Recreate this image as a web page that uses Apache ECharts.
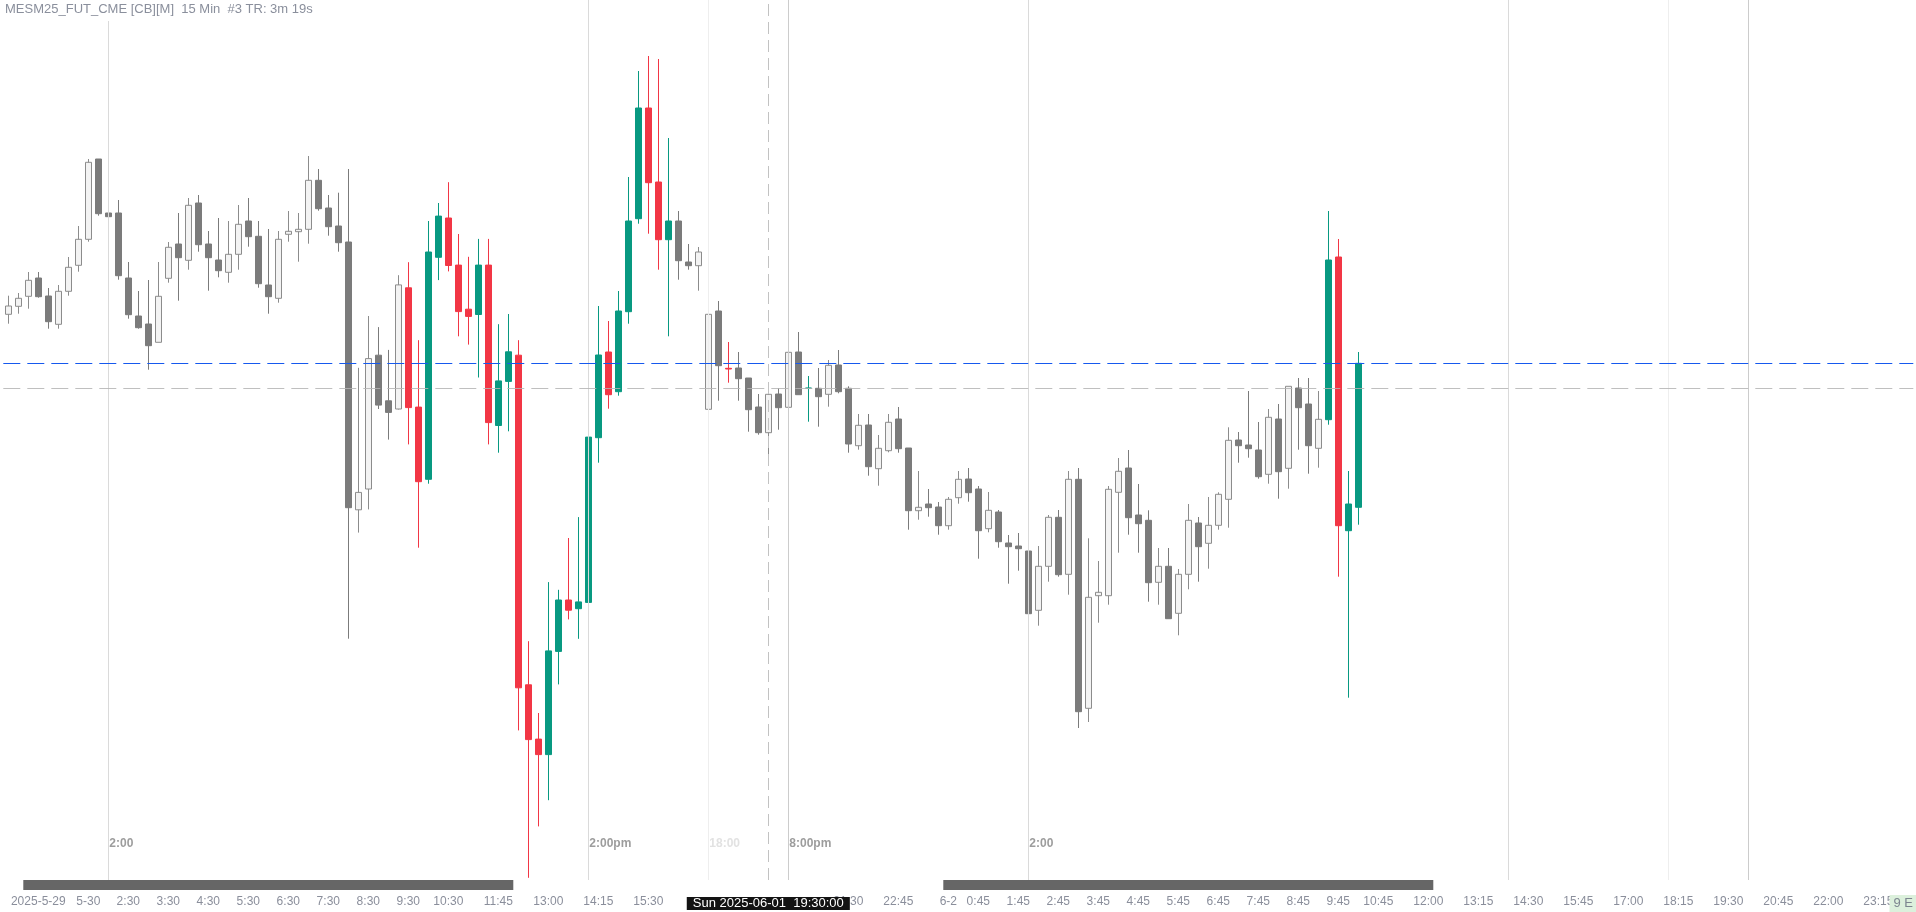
<!DOCTYPE html>
<html lang="en">
<head>
<meta charset="UTF-8">
<title>MESM25_FUT_CME 15 Min</title>
<script src="https://cdn.jsdelivr.net/npm/echarts@6/dist/echarts.min.js"></script>
<style>
    html, body { margin: 0; padding: 0; background: #fff; }
    #container { width: 1916px; height: 912px; }
</style>
</head>
<body>
<div id="container"></div>
<script>
    // 15 min bars, 5-29 night session -> 6-2 morning
    var opens = [
        5968.57, 5969.37, 5970.37, 5972.20, 5970.40, 5967.57, 5970.87, 5973.47, 5976.07, 5984.10,
        5978.70, 5978.70, 5972.20, 5968.40, 5967.60, 5965.77, 5972.17, 5975.60, 5973.97, 5979.70,
        5975.60, 5974.00, 5972.77, 5974.57, 5977.90, 5976.37, 5971.50, 5970.17, 5976.57, 5976.83,
        5977.07, 5981.97, 5979.20, 5977.40, 5975.80, 5949.02, 5951.10, 5964.48, 5959.92, 5959.10,
        5971.22, 5959.29, 5952.07, 5974.27, 5978.20, 5973.49, 5969.08, 5968.55, 5973.49, 5957.45,
        5961.86, 5964.48, 5931.52, 5926.09, 5924.54, 5934.86, 5940.00, 5939.13, 5939.76, 5956.23,
        5964.80, 5960.83, 5968.83, 5978.13, 5989.20, 5981.80, 5976.03, 5977.90, 5973.80, 5973.43,
        5959.07, 5968.90, 5963.17, 5963.20, 5962.20, 5959.30, 5956.73, 5960.60, 5959.27, 5964.80,
        5961.17, 5961.17, 5960.57, 5963.50, 5961.17, 5955.43, 5957.50, 5953.13, 5954.93, 5958.10,
        5955.20, 5948.93, 5949.60, 5949.30, 5947.43, 5950.23, 5952.10, 5951.10, 5947.13, 5948.80,
        5945.70, 5945.40, 5944.90, 5938.97, 5943.37, 5948.27, 5942.57, 5952.07, 5929.17, 5940.43,
        5940.43, 5950.77, 5953.20, 5948.50, 5947.97, 5941.77, 5943.37, 5938.67, 5942.57, 5947.70,
        5945.67, 5947.47, 5950.07, 5956.00, 5955.50, 5955.00, 5952.57, 5958.10, 5953.17, 5961.20,
        5959.60, 5955.17, 5958.03, 5974.30, 5946.93, 5949.27
    ];
    var closes = [
        5969.40, 5970.17, 5971.97, 5970.33, 5967.83, 5970.87, 5973.27, 5976.07, 5983.77, 5978.63,
        5978.33, 5972.43, 5968.53, 5967.23, 5965.43, 5970.37, 5975.27, 5974.23, 5979.47, 5975.53,
        5974.23, 5972.93, 5974.57, 5977.57, 5976.33, 5971.63, 5970.33, 5976.07, 5976.87, 5977.07,
        5981.97, 5979.13, 5977.33, 5975.73, 5949.23, 5950.76, 5964.14, 5959.49, 5958.76, 5971.51,
        5959.24, 5951.83, 5974.80, 5978.39, 5973.45, 5968.84, 5968.36, 5973.49, 5957.74, 5961.91,
        5964.82, 5931.22, 5926.04, 5924.54, 5934.91, 5940.00, 5938.98, 5939.81, 5956.29, 5964.50,
        5960.53, 5968.90, 5977.90, 5989.20, 5981.73, 5976.03, 5977.90, 5973.93, 5973.43, 5974.80,
        5968.57, 5963.43, 5963.10, 5962.13, 5959.03, 5956.73, 5960.57, 5959.23, 5964.77, 5960.53,
        5961.20, 5960.33, 5963.47, 5960.83, 5955.60, 5957.47, 5953.33, 5955.17, 5957.77, 5955.13,
        5948.93, 5949.27, 5949.23, 5947.43, 5950.07, 5952.07, 5950.73, 5946.93, 5948.97, 5945.83,
        5945.33, 5945.13, 5938.63, 5943.37, 5948.27, 5942.53, 5952.07, 5928.83, 5940.27, 5940.77,
        5951.07, 5952.87, 5948.23, 5947.63, 5941.73, 5943.37, 5938.13, 5942.57, 5947.97, 5945.33,
        5947.47, 5950.57, 5955.97, 5955.43, 5955.13, 5952.33, 5958.27, 5952.83, 5961.37, 5959.23,
        5955.43, 5958.07, 5974.00, 5947.43, 5949.60, 5963.67
    ];
    var lows = [
        5967.63, 5968.63, 5969.13, 5970.23, 5967.13, 5967.13, 5970.43, 5972.83, 5975.83, 5978.43,
        5975.13, 5972.03, 5968.13, 5967.13, 5963.03, 5965.77, 5971.73, 5969.93, 5973.03, 5974.83,
        5970.93, 5972.27, 5971.73, 5973.03, 5975.33, 5971.23, 5968.63, 5969.73, 5975.83, 5973.83,
        5975.63, 5978.93, 5976.43, 5974.83, 5936.13, 5946.74, 5949.06, 5959.10, 5956.04, 5959.05,
        5955.56, 5945.23, 5951.63, 5971.99, 5972.86, 5966.37, 5965.54, 5962.25, 5955.56, 5954.73,
        5956.87, 5926.96, 5912.22, 5917.36, 5919.98, 5931.56, 5938.06, 5936.12, 5939.22, 5953.73,
        5959.13, 5960.43, 5967.63, 5977.63, 5976.63, 5973.03, 5966.37, 5972.03, 5973.03, 5970.93,
        5954.73, 5959.93, 5961.73, 5959.93, 5956.83, 5956.53, 5953.73, 5957.03, 5958.13, 5960.53,
        5957.83, 5957.33, 5959.33, 5960.67, 5954.73, 5955.03, 5952.43, 5951.43, 5954.77, 5954.73,
        5947.03, 5948.03, 5948.33, 5946.53, 5947.03, 5949.63, 5949.83, 5944.13, 5946.77, 5945.23,
        5941.63, 5942.93, 5938.53, 5937.43, 5941.83, 5942.33, 5940.53, 5927.20, 5927.80, 5937.73,
        5939.53, 5944.73, 5946.53, 5944.73, 5939.83, 5939.53, 5938.13, 5936.47, 5941.07, 5941.83,
        5943.13, 5947.03, 5947.23, 5953.73, 5954.23, 5952.13, 5951.63, 5950.13, 5951.13, 5955.03,
        5952.63, 5953.23, 5957.53, 5942.33, 5930.23, 5947.53
    ];
    var highs = [
        5970.43, 5970.70, 5972.80, 5972.80, 5971.20, 5971.50, 5974.30, 5977.40, 5984.10, 5984.10,
        5981.30, 5980.00, 5973.80, 5970.90, 5972.00, 5973.80, 5975.80, 5978.70, 5980.20, 5980.50,
        5976.90, 5978.20, 5977.90, 5979.50, 5980.20, 5977.90, 5977.10, 5976.90, 5978.90, 5978.70,
        5984.40, 5983.10, 5980.50, 5980.73, 5983.10, 5963.22, 5968.40, 5967.29, 5965.01, 5972.48,
        5973.78, 5965.98, 5977.90, 5979.70, 5981.78, 5976.60, 5974.32, 5976.11, 5976.11, 5967.58,
        5968.60, 5965.98, 5935.88, 5928.70, 5941.79, 5941.02, 5946.20, 5948.29, 5958.32, 5969.40,
        5967.90, 5970.90, 5982.30, 5992.90, 5994.40, 5994.10, 5986.20, 5978.90, 5975.60, 5975.30,
        5970.40, 5969.90, 5965.80, 5964.80, 5962.20, 5960.60, 5961.23, 5961.20, 5965.50, 5966.80,
        5962.40, 5963.20, 5964.00, 5965.00, 5961.37, 5958.60, 5958.60, 5956.50, 5958.60, 5959.30,
        5955.20, 5952.90, 5951.10, 5949.80, 5950.30, 5952.90, 5953.20, 5951.40, 5950.80, 5949.00,
        5946.50, 5946.70, 5945.90, 5945.40, 5948.50, 5949.00, 5952.90, 5953.20, 5946.17, 5943.90,
        5951.40, 5954.20, 5955.00, 5951.60, 5948.97, 5945.20, 5945.20, 5943.10, 5949.60, 5948.30,
        5950.30, 5950.77, 5957.27, 5956.80, 5960.90, 5957.80, 5959.10, 5959.60, 5961.37, 5962.20,
        5962.20, 5960.90, 5978.90, 5976.10, 5952.90, 5964.80
    ];
    // bars drawn in session colours (regular hours + coloured dojis)
    var coloredRanges = [[40, 66], [72, 72], [80, 80], [132, 135]];

    var slotCount = 191;   // bar slots incl. empty future space
    var tickIdx = [3, 8, 12, 16, 20, 24, 28, 32, 36, 40, 44, 49, 54, 59, 64, 84, 89, 94, 97, 101,
        105, 109, 113, 117, 121, 125, 129, 133, 137, 142, 147, 152, 157, 162, 167, 172, 177, 182, 187];
    var tickText = ['2025-5-29', '5-30', '2:30', '3:30', '4:30', '5:30', '6:30', '7:30', '8:30', '9:30',
        '10:30', '11:45', '13:00', '14:15', '15:30', '21:30', '22:45', '6-2', '0:45', '1:45',
        '2:45', '3:45', '4:45', '5:45', '6:45', '7:45', '8:45', '9:45', '10:45', '12:00',
        '13:15', '14:30', '15:45', '17:00', '18:15', '19:30', '20:45', '22:00', '23:15'];

    var sepIdx = [10, 58, 70, 78, 102, 150, 166, 174];
    var sepKind = ['day', 'day', 'open', 'eve', 'day', 'day', 'open', 'eve'];
    var sepText = ['2:00', '2:00pm', '18:00', '8:00pm', '2:00', '', '', ''];

    var crossIdx = 76;
    var crossPrice = 5961.17;
    var crossText = 'Sun 2025-06-01  19:30:00';
    var barSpans = [[2, 51], [94, 143]];

    var sepColor = { day: '#dadada', open: '#eeeeee', eve: '#cccccc' };
    var sepLabelColor = { day: '#9d9d9d', open: '#e2e2e2', eve: '#9d9d9d' };
    var candleStyle = {
        ethUp: { fill: '#f3f3f3', line: '#8c8c8c' },
        ethDown: { fill: '#7b7b7b', line: '#7b7b7b' },
        rthUp: { fill: '#089981', line: '#089981' },
        rthDown: { fill: '#f23645', line: '#f23645' }
    };
    var font = 'Liberation Sans, Arial, sans-serif';

    function isColored(i) {
        for (var k = 0; k < coloredRanges.length; k++) {
            if (i >= coloredRanges[k][0] && i <= coloredRanges[k][1]) return true;
        }
        return false;
    }

    var categories = [];
    for (var s = 0; s < slotCount; s++) categories.push(String(s));

    var candles = [];
    for (var i = 0; i < opens.length; i++) {
        var up = closes[i] > opens[i] || (closes[i] === opens[i] && i > 0 && closes[i] >= closes[i - 1]);
        var key = (isColored(i) ? 'rth' : 'eth') + (up ? 'Up' : 'Down');
        var cs = candleStyle[key];
        candles.push({
            value: [opens[i], closes[i], lows[i], highs[i]],
            itemStyle: { color: cs.fill, color0: cs.fill, borderColor: cs.line, borderColor0: cs.line, borderWidth: 1 }
        });
    }

    var tickMap = {};
    for (var t = 0; t < tickIdx.length; t++) tickMap[tickIdx[t]] = tickText[t];

    var dom = document.getElementById('container');
    var myChart = echarts.init(dom);

    var option = {
        animation: false,
        backgroundColor: '#fff',
        title: {
            text: 'MESM25_FUT_CME [CB][M]  15 Min  #3 TR: 3m 19s',
            left: 0,
            top: 0,
            padding: [3, 4, 5, 5],
            backgroundColor: '#fff',
            textStyle: { fontSize: 13, fontWeight: 'normal', color: '#8a8f9c', fontFamily: font }
        },
        grid: { left: 3.3, right: 2.7, top: 0, bottom: 32 },
        xAxis: {
            type: 'category',
            data: categories,
            boundaryGap: true,
            axisLine: { show: false },
            axisTick: { show: false },
            splitLine: { show: false },
            axisLabel: {
                interval: function (idx) { return tickMap[idx] !== undefined; },
                formatter: function (v, idx) { return tickMap[idx] || ''; },
                hideOverlap: false,
                margin: 16,
                fontSize: 12,
                color: '#8a8e9b',
                fontFamily: font
            }
        },
        yAxis: {
            type: 'value',
            min: 5912,
            max: 6000,
            show: false,
            splitLine: { show: false }
        },
        series: [
            {
                type: 'line',
                name: 'sessions',
                data: [],
                z: 1,
                markLine: {
                    silent: true,
                    animation: false,
                    symbol: ['none', 'none'],
                    label: { show: false },
                    data: sepIdx.map(function (idx, k) {
                        return { xAxis: idx, lineStyle: { color: sepColor[sepKind[k]], width: 1, type: 'solid' } };
                    })
                }
            },
            {
                type: 'candlestick',
                name: 'MESM25',
                data: candles,
                barWidth: 6,
                z: 2
            },
            {
                type: 'line',
                name: 'levels',
                data: [],
                z: 5,
                markLine: {
                    silent: true,
                    animation: false,
                    symbol: ['none', 'none'],
                    label: { show: false },
                    data: [
                        { xAxis: crossIdx, lineStyle: { color: '#c2c2c2', width: 1, type: [12, 6] } },
                        { yAxis: crossPrice, lineStyle: { color: '#b4b4b4', opacity: 0.85, width: 1, type: [17, 7] } },
                        { yAxis: closes[closes.length - 1], lineStyle: { color: '#1659ee', width: 1, type: [17, 7] } }
                    ]
                }
            }
        ]
    };
    myChart.setOption(option, true);

    // overlays: bottom bars, session texts, crosshair time box
    function px(idx) { return myChart.convertToPixel({ xAxisIndex: 0 }, idx); }
    var half = (px(1) - px(0)) / 2;
    var axisY = myChart.convertToPixel({ yAxisIndex: 0 }, 5912);
    var g = [];
    barSpans.forEach(function (sp) {
        var x0 = px(sp[0]) - half, x1 = px(sp[1]) - half;
        g.push({ type: 'rect', silent: true, z: 10,
            shape: { x: x0, y: axisY, width: x1 - x0, height: 10 },
            style: { fill: '#666666' } });
    });
    sepIdx.forEach(function (idx, k) {
        if (!sepText[k]) return;
        g.push({ type: 'text', silent: true, z: 10,
            x: px(idx) + 1, y: axisY - 36,
            style: { text: sepText[k], fill: sepLabelColor[sepKind[k]], font: 'bold 12px ' + font,
                textAlign: 'left', textVerticalAlign: 'middle' } });
    });
    g.push({ type: 'text', silent: true, z: 20,
        x: px(crossIdx), y: axisY + 17,
        style: { text: crossText, fill: '#ffffff', font: '13px ' + font, backgroundColor: '#131313',
            padding: [0, 6], lineHeight: 13, textAlign: 'center', textVerticalAlign: 'top' } });
    g.push({ type: 'text', silent: true, z: 20,
        x: 1916, y: axisY + 15,
        style: { text: '9 E', fill: '#7d8590', font: '13px ' + font, backgroundColor: '#dcf0dc',
            padding: [1, 3, 1, 4], lineHeight: 15, textAlign: 'right', textVerticalAlign: 'top' } });
    myChart.setOption({ graphic: g });
</script>
</body>
</html>
